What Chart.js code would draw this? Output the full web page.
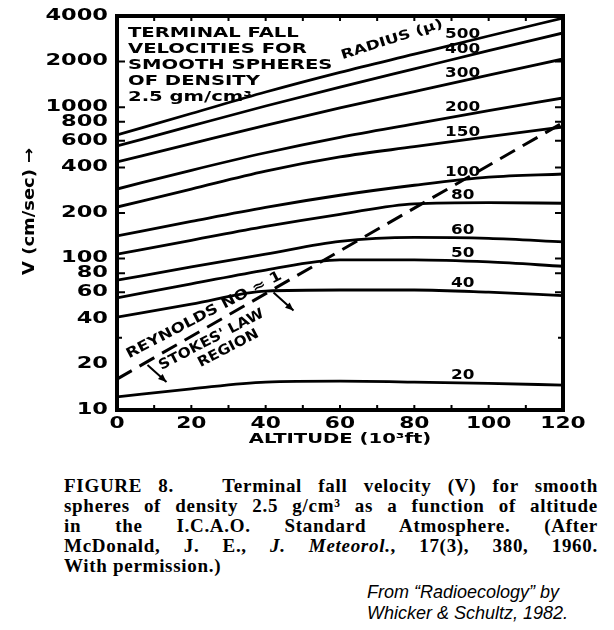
<!DOCTYPE html>
<html>
<head>
<meta charset="utf-8">
<script src="https://cdn.jsdelivr.net/npm/chart.js@4.4.1/dist/chart.umd.min.js"></script>
<style>
  body { margin: 0; background: #fff; width: 614px; height: 630px; position: relative; overflow: hidden; }
  #wrap { position: absolute; left: 0; top: 0; width: 614px; height: 460px; }
  .cap { position: absolute; left: 64px; top: 476px; width: 534px;
         font-family: "Liberation Serif", "DejaVu Serif", serif; font-weight: bold;
         font-size: 19px; line-height: 20px; color: #000; letter-spacing: 0.7px; }
  .cap div { text-align: justify; text-align-last: justify; white-space: nowrap; }
  .cap div.last { text-align-last: left; }
  .src { position: absolute; left: 367px; top: 582px; font-family: "Liberation Sans Narrow", "Liberation Sans", sans-serif;
         font-style: italic; font-size: 18px; line-height: 21px; color: #000; }
</style>
</head>
<body>
<div id="wrap"><canvas id="chart" width="614" height="460"></canvas></div>
<div class="cap">
  <div>FIGURE 8.&nbsp;&nbsp; Terminal fall velocity (V) for smooth</div>
  <div>spheres of density 2.5 g/cm³ as a function of altitude</div>
  <div>in the I.C.A.O. Standard Atmosphere. (After</div>
  <div>McDonald, J. E., <i>J. Meteorol.</i>, 17(3), 380, 1960.</div>
  <div class="last">With permission.)</div>
</div>
<div class="src">From “Radioecology” by<br>Whicker &amp; Schultz, 1982.</div>

<script>
// altitudi (10^3 ft) dove ho letto i valori
const altitudes = [0, 20, 40, 60, 80, 100, 120];

// raggio delle sfere (micron) -> velocità (cm/sec)
const radii = ['20', '40', '50', '60', '80', '100', '150', '200', '300', '400', '500'];
const v20  = [12.2, 13.8, 15.3, 15.5, 15.3, 15.0, 14.6];
const v40  = [41, 50, 61, 62, 62, 60, 57];
const v50  = [55, 68, 84, 98, 98, 95, 89];
const v60  = [72, 88, 107, 130, 138, 136, 129];
const v80  = [107, 132, 163, 196, 230, 234, 232];
const v100 = [141, 176, 218, 262, 305, 345, 362];
const v150 = [219, 288, 378, 469, 548, 638, 740];
const v200 = [288, 383, 500, 632, 775, 948, 1150];
const v300 = [435, 575, 759, 988, 1268, 1626, 2081];
const v400 = [554, 752, 1018, 1358, 1791, 2360, 3090];
const v500 = [655, 908, 1259, 1698, 2239, 2951, 3880];
const series = [v20, v40, v50, v60, v80, v100, v150, v200, v300, v400, v500];

// linea tratteggiata Reynolds No. ~ 1
const reynoldsAlt = [0, 120];
const reynoldsV = [16, 790];

// etichette degli assi
const yTickLabels = [10, 20, 40, 60, 80, 100, 200, 400, 600, 800, 1000, 2000, 4000];
const xTickLabels = [0, 20, 40, 60, 80, 100, 120];

const FONT = '"DejaVu Sans", "Liberation Sans", sans-serif';

// testo "largo" come il lettering del grafico originale
function wideText(ctx, txt, x, y, size, align, stretch, angle) {
    ctx.save();
    ctx.font = 'bold ' + size + 'px ' + FONT;
    ctx.textBaseline = 'middle';
    ctx.textAlign = 'left';
    const w = ctx.measureText(txt).width * stretch;
    let dx = 0;
    if (align === 'right') dx = -w;
    else if (align === 'center') dx = -w / 2;
    ctx.translate(x, y);
    if (angle) ctx.rotate(angle);
    ctx.translate(dx, 0);
    ctx.scale(stretch, 1);
    ctx.fillStyle = '#000';
    ctx.fillText(txt, 0, 0);
    ctx.restore();
}

function arrow(ctx, x1, y1, x2, y2) {
    const a = Math.atan2(y2 - y1, x2 - x1);
    ctx.beginPath();
    ctx.moveTo(x1, y1);
    ctx.lineTo(x2, y2);
    ctx.stroke();
    ctx.beginPath();
    ctx.moveTo(x2, y2);
    ctx.lineTo(x2 - 9 * Math.cos(a - 0.4), y2 - 9 * Math.sin(a - 0.4));
    ctx.lineTo(x2 - 9 * Math.cos(a + 0.4), y2 - 9 * Math.sin(a + 0.4));
    ctx.closePath();
    ctx.fill();
}

const decorPlugin = {
    id: 'decor',
    afterDraw(chart) {
        const ctx = chart.ctx;
        const xs = chart.scales.x, ys = chart.scales.y;
        const a = chart.chartArea;
        ctx.save();
        ctx.strokeStyle = '#000';
        ctx.fillStyle = '#000';

        // cornice spessa
        ctx.lineWidth = 4;
        ctx.strokeRect(a.left, a.top, a.right - a.left, a.bottom - a.top);

        // tacche interne asse y (sinistra e destra)
        ctx.lineWidth = 2;
        ys.ticks.forEach(t => {
            const py = ys.getPixelForValue(t.value);
            const len = yTickLabels.includes(t.value) ? 8 : 5;
            ctx.beginPath();
            ctx.moveTo(a.left, py); ctx.lineTo(a.left + len, py);
            ctx.moveTo(a.right, py); ctx.lineTo(a.right - len, py);
            ctx.stroke();
        });
        // tacche interne asse x (sopra e sotto)
        xs.ticks.forEach(t => {
            const px = xs.getPixelForValue(t.value);
            ctx.beginPath();
            ctx.moveTo(px, a.top); ctx.lineTo(px, a.top + 5);
            ctx.moveTo(px, a.bottom); ctx.lineTo(px, a.bottom - 5);
            ctx.stroke();
        });

        // etichette
        yTickLabels.forEach(v => wideText(ctx, String(v), a.left - 9, ys.getPixelForValue(v), 15, 'right', 1.5));
        xTickLabels.forEach(v => wideText(ctx, String(v), xs.getPixelForValue(v), a.bottom + 14, 15, 'center', 1.45));
        wideText(ctx, 'ALTITUDE (10³ft)', xs.getPixelForValue(60), a.bottom + 29, 14, 'center', 1.4);
        wideText(ctx, 'V (cm/sec) →', 30, ys.getPixelForValue(205), 16, 'center', 1.12, -Math.PI / 2);

        // nomi delle curve (raggio), verso altitudine ~93
        radii.forEach((r, i) => {
            const d = chart.getDatasetMeta(i).data;
            const px = d[4].x + 0.65 * (d[5].x - d[4].x);
            const py = d[4].y + 0.65 * (d[5].y - d[4].y);
            wideText(ctx, r, px, py - 8, 14, 'center', 1.2);
        });

        // riquadro testo in alto a sinistra
        const boxLines = ['TERMINAL FALL', 'VELOCITIES FOR', 'SMOOTH SPHERES', 'OF DENSITY', '2.5 gm/cm³'];
        boxLines.forEach((s, i) => wideText(ctx, s, a.left + 11, a.top + 17 + i * 16, 14, 'left', 1.4));
        wideText(ctx, 'RADIUS (μ)', xs.getPixelForValue(74), ys.getPixelForValue(2780), 13, 'center', 1.3, -0.31);

        // testi lungo la linea di Reynolds
        const dm = chart.getDatasetMeta(series.length).data;
        const p0 = dm[0], p1 = dm[1];
        const ang = Math.atan2(p1.y - p0.y, p1.x - p0.x);
        const along = (px, off) => {
            const t = (px - p0.x) / (p1.x - p0.x);
            const bx = p0.x + t * (p1.x - p0.x), by = p0.y + t * (p1.y - p0.y);
            return [bx + off * Math.sin(ang), by - off * Math.cos(ang)];
        };
        let q = along(210, 12);
        wideText(ctx, 'REYNOLDS NO ≈ 1', q[0], q[1], 14, 'center', 1.2, ang + 0.04);
        q = along(205, -13);
        wideText(ctx, 'STOKES\' LAW', q[0], q[1], 14, 'center', 1.1, ang + 0.04);
        q = along(214, -29);
        wideText(ctx, 'REGION', q[0], q[1], 14, 'center', 1.1, ang + 0.04);

        ctx.lineWidth = 2;
        q = along(146, -3);
        arrow(ctx, q[0], q[1], q[0] + 19, q[1] + 17);
        q = along(272, -3);
        arrow(ctx, q[0], q[1], q[0] + 20, q[1] + 18);
        ctx.restore();
    }
};

const datasets = series.map((s, i) => ({
    label: radii[i],
    data: altitudes.map((alt, k) => ({ x: alt, y: s[k] })),
    borderColor: '#000',
    borderWidth: 2.8,
    pointRadius: 0,
    fill: false,
    cubicInterpolationMode: 'monotone'
}));
datasets.push({
    label: 'Reynolds',
    data: reynoldsAlt.map((alt, k) => ({ x: alt, y: reynoldsV[k] })),
    borderColor: '#000',
    borderWidth: 3,
    borderDash: [17, 9],
    pointRadius: 0,
    fill: false,
    tension: 0
});

new Chart(document.getElementById('chart'), {
    type: 'line',
    data: { datasets: datasets },
    options: {
        responsive: false,
        animation: false,
        devicePixelRatio: 1,
        layout: { padding: { left: 117, top: 16, right: 51, bottom: 50 } },
        plugins: { legend: { display: false }, tooltip: { enabled: false } },
        scales: {
            x: {
                type: 'linear', min: 0, max: 120, display: false,
                ticks: { stepSize: 10 }
            },
            y: {
                type: 'logarithmic', min: 10, max: 4000, display: false
            }
        }
    },
    plugins: [decorPlugin]
});
</script>
</body>
</html>
